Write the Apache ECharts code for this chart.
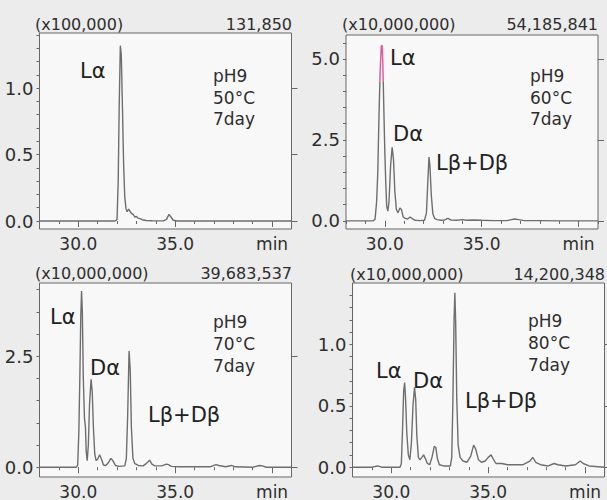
<!DOCTYPE html>
<html><head><meta charset="utf-8">
<script src="https://cdn.jsdelivr.net/npm/echarts@6/dist/echarts.min.js"></script>
<style>html,body{margin:0;padding:0;background:#ececec}#c{width:607px;height:500px}</style>
</head><body><div id="c"></div>
<script>
// ---------- data ----------
const p1Time = [28.0,31.90,32.00,32.06,32.11,32.17,32.22,32.28,32.34,32.40,32.46,32.52,32.60,32.68,32.76,32.84,32.92,33.00,33.08,33.18,33.30,33.50,33.80,34.40,34.55,34.68,34.78,34.90,35.10,36.50,38.00,41.00];
const p1Signal = [0,0,0.010,0.300,0.850,1.3185,1.250,0.850,0.420,0.180,0.095,0.070,0.090,0.070,0.055,0.048,0.030,0.034,0.022,0.018,0.010,0.004,0.002,0.001,0.012,0.050,0.030,0.006,0,0.001,0,0];

const p2Time = [28.0,29.40,29.50,29.58,29.64,29.70,29.76,29.82,29.86,29.90,29.95,30.00,30.05,30.10,30.16,30.22,30.30,30.38,30.45,30.52,30.60,30.68,30.78,30.86,30.95,31.05,31.18,31.30,31.40,31.55,31.80,32.05,32.15,32.22,32.28,32.33,32.40,32.48,32.58,32.70,32.90,33.10,33.25,33.40,33.70,34.00,34.20,34.60,35.00,35.60,36.30,36.70,36.90,37.20,38.00,39.00,41.00];
const p2Signal = [0,0,0.05,0.60,1.50,3.20,4.60,5.40,5.42,4.90,3.50,2.20,1.20,0.45,0.30,0.60,1.70,2.27,1.90,0.90,0.35,0.25,0.40,0.35,0.12,0.08,0.06,0.12,0.08,0.02,0.01,0.02,0.25,1.20,1.97,1.70,0.80,0.22,0.07,0.04,0.02,0.03,0.08,0.03,0.02,0.04,0.02,0.03,0.02,0.01,0.01,0.06,0.04,0.01,0.01,0,0];

const p3Time = [28.0,29.90,29.97,30.03,30.08,30.13,30.17,30.21,30.26,30.32,30.37,30.41,30.46,30.52,30.58,30.66,30.72,30.78,30.85,30.92,31.00,31.10,31.20,31.30,31.42,31.55,31.68,31.78,31.92,32.10,32.40,32.48,32.55,32.62,32.68,32.74,32.82,32.92,33.10,33.35,33.55,33.68,33.80,33.95,34.30,34.55,34.65,34.80,35.20,36.00,36.80,37.10,37.25,37.60,37.90,38.10,39.00,39.35,39.50,39.70,41.00];
const p3Signal = [0,0,0.05,0.80,2.00,3.40,3.97,3.50,2.00,1.10,0.90,0.35,0.15,0.50,1.40,1.98,1.70,0.90,0.30,0.15,0.18,0.28,0.18,0.05,0.04,0.10,0.20,0.15,0.04,0.02,0.03,0.20,1.20,2.62,2.20,0.90,0.20,0.08,0.04,0.03,0.10,0.16,0.07,0.03,0.03,0.07,0.06,0.02,0.01,0.01,0.01,0.06,0.04,0.01,0.04,0.01,0,0.04,0.03,0,0];

const p4Time = [28.0,29.00,29.30,29.50,30.45,30.52,30.58,30.64,30.69,30.74,30.80,30.88,30.96,31.04,31.12,31.20,31.26,31.32,31.40,31.48,31.58,31.67,31.76,31.86,31.98,32.10,32.22,32.30,32.38,32.48,32.70,33.05,33.12,33.18,33.24,33.28,33.32,33.38,33.45,33.55,33.70,33.90,34.10,34.25,34.35,34.50,34.65,34.85,35.00,35.15,35.25,35.40,35.70,36.00,36.40,36.80,37.15,37.30,37.45,37.70,38.10,38.40,38.60,39.00,39.50,39.75,39.90,40.20,41.00];
const p4Signal = [0,0,0.01,0,0,0.03,0.30,0.62,0.69,0.55,0.28,0.10,0.06,0.20,0.50,0.65,0.55,0.25,0.08,0.06,0.08,0.10,0.07,0.03,0.02,0.08,0.17,0.16,0.07,0.02,0.01,0.01,0.08,0.55,1.20,1.42,1.20,0.55,0.18,0.08,0.05,0.04,0.09,0.18,0.15,0.06,0.04,0.05,0.08,0.10,0.07,0.03,0.03,0.02,0.02,0.02,0.05,0.08,0.04,0.02,0.01,0.03,0.02,0.01,0.02,0.05,0.03,0.01,0];

const headerScales = ['(x100,000)','(x10,000,000)','(x10,000,000)','(x10,000,000)'];
const headerMaxima = ['131,850','54,185,841','39,683,537','14,200,348'];
const conditions = [['pH9','50°C','7day'],['pH9','60°C','7day'],['pH9','70°C','7day'],['pH9','80°C','7day']];
const peakNames = [['Lα'],['Lα','Dα','Lβ+Dβ'],['Lα','Dα','Lβ+Dβ'],['Lα','Dα','Lβ+Dβ']];
const saturationLevel = 4.3; // panel 2: part of the main peak above this is drawn in pink

const xMinorTicks = [28,29,30,31,32,33,34,35,36,37,38,39,40,41];
const xMajorTicks = [30,35,40];
const xTickLabels = ['30.0','35.0','min'];
const yMajorTicks = [[0,0.5,1.0],[0,2.5,5.0],[0,2.5],[0,0.5,1.0]];
const yMinorTicks = [
  [0,0.1,0.2,0.3,0.4,0.5,0.6,0.7,0.8,0.9,1.0,1.1,1.2,1.3,1.4],
  [0,0.5,1.0,1.5,2.0,2.5,3.0,3.5,4.0,4.5,5.0,5.5],
  [0,0.5,1.0,1.5,2.0,2.5,3.0,3.5,4.0],
  [0,0.1,0.2,0.3,0.4,0.5,0.6,0.7,0.8,0.9,1.0,1.1,1.2,1.3,1.4]
];
const yLabels = [['0.0','0.5','1.0'],['0.0','2.5','5.0'],['0.0','2.5'],['0.0','0.5','1.0']];

// ---------- layout ----------
const times = [p1Time,p2Time,p3Time,p4Time];
const signals = [p1Signal,p2Signal,p3Signal,p4Signal];
const grids = [
  {left:39.5, top:33, width:252, height:196},
  {left:346, top:35, width:252, height:194},
  {left:39.5, top:283, width:252, height:196},
  {left:352.5, top:283, width:252, height:196}
];
const yRange = [[-0.06,1.414],[-0.25,5.74],[-0.22,4.15],[-0.08,1.5]];
const headerY = [24,24,273,274];
const headerLeft = [35,342,35,350];
const headerRight = [292,598,292,605];
const condX = [213,530,213,528];
const condY = [[76,98,119],[76,98,119],[322,344,366],[321,343,365]];
const peakPos = [
  [[80,71]],
  [[390,58],[393,134],[436,163]],
  [[50,317],[90,368],[148,415]],
  [[376,371],[413,381],[465,401]]
];

const FONT = '"DejaVu Sans", sans-serif';
const TXT = '#2e2e2e';
const LINE = '#6e6e6e';
const PINK = '#e2559a';
const xAxes = [], yAxes = [], series = [], graphic = [];
for (let i = 0; i < 4; i++) {
  xAxes.push({type:'value', gridIndex:i, min:28, max:41, position:'bottom',
    axisLine:{show:false}, splitLine:{show:false},
    axisTick:{show:true, customValues:xMinorTicks, length:3, lineStyle:{color:'#666'}},
    axisLabel:{show:true, customValues:xMajorTicks, margin:6, fontFamily:FONT, fontSize:17, color:TXT,
      formatter:v => xTickLabels[xMajorTicks.indexOf(Math.round(v))] || ''}});
  yAxes.push({type:'value', gridIndex:i, min:yRange[i][0], max:yRange[i][1],
    axisLine:{show:false}, splitLine:{show:false},
    axisTick:{show:true, customValues:yMinorTicks[i], length:3, lineStyle:{color:'#666'}},
    axisLabel:{show:true, customValues:yMajorTicks[i], margin:6, fontFamily:FONT, fontSize:18, color:TXT,
      formatter:v => { const k = yMajorTicks[i].findIndex(t => Math.abs(t - v) < 1e-6); return k >= 0 ? yLabels[i][k] : ''; }}});
}
for (let i = 0; i < 4; i++) {
  xAxes.push({type:'value', gridIndex:i, min:28, max:41, position:'bottom',
    axisLine:{show:false}, splitLine:{show:false}, axisLabel:{show:false},
    axisTick:{show:true, customValues:xMajorTicks, length:6, lineStyle:{color:'#666'}}});
  yAxes.push({type:'value', gridIndex:i, min:yRange[i][0], max:yRange[i][1],
    axisLine:{show:false}, splitLine:{show:false}, axisLabel:{show:false},
    axisTick:{show:true, customValues:yMajorTicks[i], length:6, lineStyle:{color:'#666'}}});
}
for (let i = 0; i < 4; i++) {
  series.push({type:'line', xAxisIndex:i, yAxisIndex:i, showSymbol:false, symbol:'none',
    lineStyle:{width:1.4, color:LINE}, itemStyle:{color:LINE},
    data: times[i].map((t, k) => [t, signals[i][k]]), animation:false});
  graphic.push({type:'text', style:{text:headerScales[i], x:headerLeft[i], y:headerY[i], align:'left', verticalAlign:'middle', font:'16px ' + FONT, fill:TXT}});
  graphic.push({type:'text', style:{text:headerMaxima[i], x:headerRight[i], y:headerY[i], align:'right', verticalAlign:'middle', font:'16px ' + FONT, fill:TXT}});
  conditions[i].forEach((s, k) => graphic.push({type:'text', style:{text:s, x:condX[i], y:condY[i][k], align:'left', verticalAlign:'middle', font:'17px ' + FONT, fill:TXT}}));
  peakNames[i].forEach((s, k) => graphic.push({type:'text', style:{text:s, x:peakPos[i][k][0], y:peakPos[i][k][1], align:'left', verticalAlign:'middle', font:'21px ' + FONT, fill:'#222'}}));
}

const chart = echarts.init(document.getElementById('c'), null, {renderer:'svg'});
chart.setOption({
  backgroundColor:'#ececec',
  animation:false,
  grid: grids.map(g => Object.assign({show:true, backgroundColor:'#f8f8f8', borderColor:'#666', borderWidth:1, containLabel:false}, g)),
  xAxis: xAxes,
  yAxis: yAxes,
  series: series,
  graphic: graphic
});
// pink saturation colouring on panel 2, placed through the panel's own y axis
const ySat = chart.convertToPixel({yAxisIndex:1}, saturationLevel);
const f = Math.max(0, Math.min(1, ySat / 500));
const grad = new echarts.graphic.LinearGradient(0, 0, 0, 500, [
  {offset:0, color:PINK}, {offset:f, color:PINK}, {offset:f, color:LINE}, {offset:1, color:LINE}
], true);
chart.setOption({series:[{}, {lineStyle:{color:grad}}]});
</script></body></html>
